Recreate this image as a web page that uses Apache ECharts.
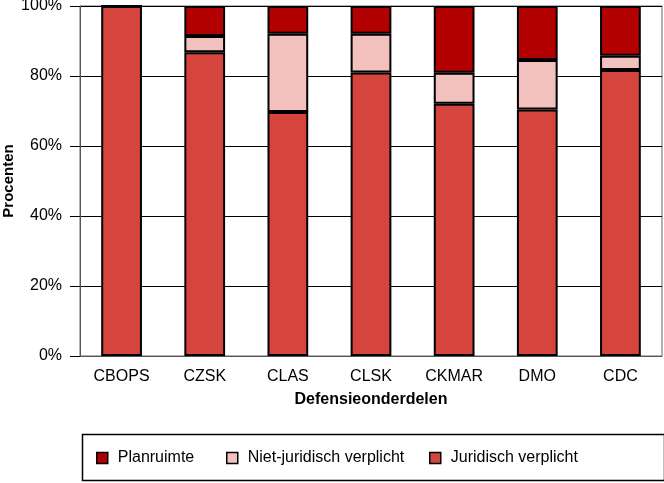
<!DOCTYPE html>
<html><head><meta charset="utf-8">
<script src="https://cdn.jsdelivr.net/npm/echarts@6/dist/echarts.min.js"></script>
<style>html,body{margin:0;padding:0;background:#fff}#c{width:664px;height:483px}</style>
</head><body><div id="c"></div>
<script>
const categories = ['CBOPS','CZSK','CLAS','CLSK','CKMAR','DMO','CDC'];
const juridisch = [100, 86.8, 69.7, 81.0, 72.1, 70.4, 81.7];
const nietJuridisch = [0, 4.6, 22.4, 11.1, 8.8, 14.2, 4.1];
const planruimte = [0, 8.6, 7.9, 7.9, 19.1, 15.4, 14.2];
const yTicks = [0, 20, 40, 60, 80, 100];
const seriesNames = ['Planruimte','Niet-juridisch verplicht','Juridisch verplicht'];
const colors = {'Planruimte':'#b30000','Niet-juridisch verplicht':'#f2c1bd','Juridisch verplicht':'#d5443d'};

const font = 'Liberation Sans, Arial, sans-serif';
const chart = echarts.init(document.getElementById('c'), null, {renderer:'canvas'});
function bar(name, data){
  return {name, type:'bar', stack:'t', data, barWidth:'49%',
    itemStyle:{color:colors[name], borderColor:'#000', borderWidth:2}};
}
function lg(name, left){
  return {data:[name], left, top:450, padding:0, icon:'rect', itemWidth:11, itemHeight:11,
    itemStyle:{borderColor:'#000', borderWidth:1.5},
    textStyle:{fontFamily:font, fontSize:16, color:'#000', padding:[0,0,0,5]}};
}
chart.setOption({
  animation:false,
  grid:{left:80, right:2, top:6, bottom:127, show:true, borderColor:'#666', borderWidth:1,
    containLabel:false, outerBoundsMode:'none'},
  xAxis:{type:'category', data:categories, boundaryGap:true,
    name:'Defensieonderdelen', nameLocation:'middle', nameGap:36, nameMoveOverlap:false,
    nameTextStyle:{fontFamily:font, fontSize:16, fontWeight:'bold', color:'#000'},
    axisLine:{lineStyle:{color:'#555', width:1}},
    axisTick:{length:10, lineStyle:{color:'#000'}},
    axisLabel:{fontFamily:font, fontSize:16, color:'#000', margin:13}},
  yAxis:{type:'value', min:0, max:100, interval:20,
    name:'Procenten', nameLocation:'middle', nameGap:64, nameRotate:90, nameMoveOverlap:false,
    nameTextStyle:{fontFamily:font, fontSize:15, fontWeight:'bold', color:'#000'},
    axisLine:{show:true, lineStyle:{color:'#555', width:1}},
    axisTick:{show:true, length:10, lineStyle:{color:'#000'}},
    axisLabel:{fontFamily:font, fontSize:16, color:'#000', margin:18,
      formatter:v=> yTicks.includes(v) ? v+'%' : ''},
    splitLine:{show:true, lineStyle:{color:'#000', width:1}}},
  legend:[lg(seriesNames[0],96), lg(seriesNames[1],226), lg(seriesNames[2],429)],
  graphic:[{type:'rect', left:80, top:432, shape:{x:0,y:0,width:582,height:46},
    style:{fill:'none', stroke:'#000', lineWidth:1.5}, z:-1}],
  series:[bar('Juridisch verplicht', juridisch), bar('Niet-juridisch verplicht', nietJuridisch), bar('Planruimte', planruimte)]
});
</script></body></html>
